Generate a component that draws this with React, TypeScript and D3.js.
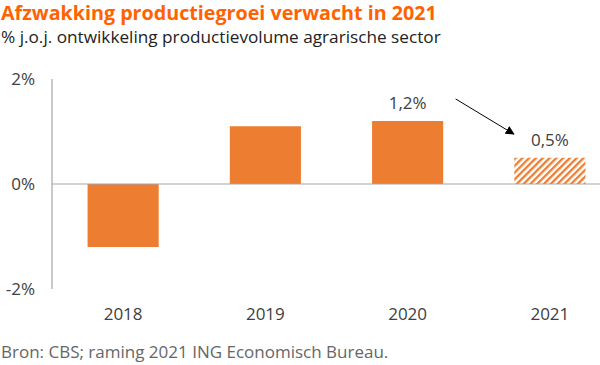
import React from "react";
import * as d3 from "d3";

const width = 600;
const height = 365;
const margin = { left: 52, right: -21, top: 79, bottom: 76 };

const years = ["2018", "2019", "2020", "2021"];
const growth = [-1.2, 1.1, 1.2, 0.5];
const forecast = [false, false, false, true];
const valueLabels = ["", "", "1,2%", "0,5%"];
const yTicks = [-2, 0, 2];

const orange = "#ED7D31";
const titleOrange = "#FF6200";
const font = "'Open Sans', sans-serif";

export default function App() {
  const x = d3
    .scaleBand<string>()
    .domain(years)
    .range([margin.left, width - margin.right])
    .paddingInner(0.5)
    .paddingOuter(0.25);
  const y = d3
    .scaleLinear()
    .domain([-2, 2])
    .range([height - margin.bottom, margin.top]);

  const x2020 = x("2020")! + x.bandwidth() / 2;
  const x2021 = x("2021")! + x.bandwidth() / 2;

  return (
    <svg width={width} height={height} style={{ position: "absolute", left: 0, top: 0, background: "#fff" }}>
      <defs>
        <pattern id="hatch" patternUnits="userSpaceOnUse" width="4.8" height="4.8" patternTransform="rotate(45)">
          <rect width="4.8" height="4.8" fill="#fff" />
          <rect width="2.3" height="4.8" fill={orange} />
        </pattern>
        <marker id="arrow" viewBox="0 0 10 10" refX="9" refY="5" markerWidth="9" markerHeight="9" orient="auto">
          <path d="M0,0 L10,5 L0,10 z" fill="#000" />
        </marker>
      </defs>

      <text x={1} y={20} fontFamily={font} fontWeight={700} fontSize={19.7} fill={titleOrange}>
        Afzwakking productiegroei verwacht in 2021
      </text>
      <text x={1} y={43} fontFamily={font} fontSize={17.2} fill="#222">
        % j.o.j. ontwikkeling productievolume agrarische sector
      </text>

      {yTicks.map((t) => (
        <text key={t} x={35} y={y(t)} dy="0.35em" textAnchor="end" fontFamily={font} fontSize={17} fill="#404040">
          {t}%
        </text>
      ))}

      {years.map((yr, i) => {
        const v = growth[i];
        return (
          <rect
            key={yr}
            x={x(yr)}
            y={y(Math.max(0, v))}
            width={x.bandwidth()}
            height={Math.abs(y(v) - y(0))}
            fill={forecast[i] ? "url(#hatch)" : orange}
          />
        );
      })}

      <line x1={margin.left} x2={margin.left} y1={y(2)} y2={y(-2)} stroke="#a6a6a6" strokeWidth={1.2} />
      <line x1={margin.left} x2={width} y1={y(0)} y2={y(0)} stroke="#a6a6a6" strokeWidth={1.2} />

      {years.map((yr) => (
        <text key={yr} x={x(yr)! + x.bandwidth() / 2} y={320} textAnchor="middle" fontFamily={font} fontSize={17} fill="#404040">
          {yr}
        </text>
      ))}

      {years.map((yr, i) =>
        valueLabels[i] ? (
          <text
            key={yr}
            x={x(yr)! + x.bandwidth() / 2}
            y={y(growth[i]) - 12}
            textAnchor="middle"
            fontFamily={font}
            fontSize={17}
            fill="#404040"
          >
            {valueLabels[i]}
          </text>
        ) : null
      )}

      <line
        x1={x2020 + 48}
        y1={y(1.62)}
        x2={x2021 - 36}
        y2={y(0.95)}
        stroke="#000"
        strokeWidth={1}
        markerEnd="url(#arrow)"
      />

      <text x={1} y={358} fontFamily={font} fontSize={17} fill="#666">
        Bron: CBS; raming 2021 ING Economisch Bureau.
      </text>
    </svg>
  );
}
